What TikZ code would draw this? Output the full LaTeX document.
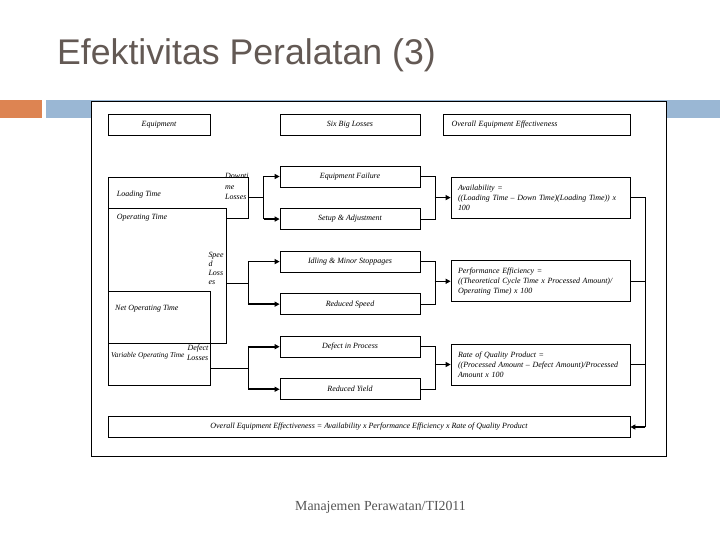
\documentclass[tikz,border=0pt]{standalone}
\usepackage{fontspec}
\setmainfont{Liberation Serif}
\newfontfamily\judulfont{Liberation Sans}
\usetikzlibrary{positioning,arrows.meta,calc,backgrounds}
\definecolor{oranye}{RGB}{221,132,82}
\definecolor{biru}{RGB}{154,183,212}
\definecolor{abujudul}{RGB}{99,89,84}
\definecolor{abukaki}{RGB}{85,85,85}
\tikzset{
  kotak/.style      = {draw, fill=white, line width=0.75bp, inner sep=2pt,
                       font=\fontsize{8}{10}\selectfont\itshape},
  kotakrugi/.style  = {kotak, minimum width=140bp, minimum height=21bp},
  kotakhasil/.style = {kotak, text width=165bp, inner xsep=7bp, align=left,
                       minimum height=41bp},
  kotakwaktu/.style = {draw, fill=white, line width=0.75bp, anchor=north west,
                       inner sep=0pt},
  teks/.style       = {font=\fontsize{8}{10}\selectfont\itshape, inner sep=0pt,
                       anchor=west},
  teksrugi/.style   = {font=\fontsize{8}{9}\selectfont\itshape, inner sep=0pt,
                       anchor=north west, align=left},
  garis/.style      = {line width=0.75bp},
  panah/.style      = {-{Triangle[length=5bp,width=5bp]}, line width=1.6bp}
}
\begin{document}
\begin{tikzpicture}[x=1bp, y=-1bp, node distance=20.8bp]
        \useasboundingbox (0,0) rectangle (720,540);
        \begin{scope}[on background layer]
            \fill[oranye] (0,100) rectangle (42,118.5);
            \fill[biru] (46,100) rectangle (720,118.5);
            \draw[garis, fill=white] (91,101.5) rectangle (666.5,456);
        \end{scope}

        \node[anchor=base west, inner sep=0pt, text=abujudul,
              font=\judulfont\fontsize{35.8}{40}\selectfont] (judul) at (57,64.3) {Efektivitas Peralatan (3)};
        \node[anchor=base west, inner sep=0pt, text=abukaki,
              font=\fontsize{13.9}{16}\selectfont] (kaki) at (295,510.7) {Manajemen Perawatan/TI2011};

        \node[kotak, minimum width=102bp, minimum height=21bp] (alat) at (159,124.5) {Equipment};
        \node[kotakrugi] (enam) at (350,124.5) {Six Big Losses};
        \node[kotak, text width=170bp, inner xsep=8.5bp, align=left, minimum height=21bp] (oee) at (536.7,124.5) {Overall Equipment Effectiveness};

        \node[kotakwaktu, minimum width=140bp, minimum height=41bp] (muat) at (108,177) {};
        \node[kotakwaktu, minimum width=117.7bp, minimum height=135bp] (operasi) at (108,208.3) {};
        \node[kotakwaktu, minimum width=102bp, minimum height=52.3bp] (bersih) at (108,291) {};
        \node[kotakwaktu, minimum width=102bp, minimum height=41.7bp] (bernilai) at (108,343.3) {};
        \node[teks] (tmuat) at (116.7,195) {Loading Time};
        \node[teks] (toperasi) at (116.7,217.3) {Operating Time};
        \node[teks] (tbersih) at (115,309) {Net Operating Time};
        \node[teks, font=\fontsize{7.4}{9}\selectfont\itshape] (tbernilai) at (111,356) {Variable Operating Time};

        \node[teksrugi, font=\fontsize{8}{10.5}\selectfont\itshape] (rhenti) at (225,173.5) {Downti\\me\\Losses};
        \node[teksrugi] (rcepat) at (208.3,252.5) {Spee\\d\\Loss\\es};
        \node[teksrugi, anchor=north east, align=right, font=\fontsize{8}{10}\selectfont\itshape] (rcacat) at (208.5,345) {Defect\\Losses};

        \node[kotakrugi] (gagal) at (350,176.5) {Equipment Failure};
        \node[kotakrugi, below=of gagal] (setel) {Setup \& Adjustment};
        \node[kotakrugi, below=of setel] (idle) {Idling \& Minor Stoppages};
        \node[kotakrugi, below=of idle] (lambat) {Reduced Speed};
        \node[kotakrugi, below=of lambat] (cacat) {Defect in Process};
        \node[kotakrugi, below=of cacat] (hasil) {Reduced Yield};

        \node[kotakhasil] (avail) at (540.5,197.6) {Availability =\\((Loading Time -- Down Time)(Loading Time)) x\\100};
        \node[kotakhasil] (kinerja) at (540.5,281.3) {Performance Efficiency =\\((Theoretical Cycle Time x Processed Amount)/\\Operating Time) x 100};
        \node[kotakhasil] (mutu) at (540.5,364.5) {Rate of Quality Product =\\((Processed Amount -- Defect Amount)/Processed\\Amount x 100};
        \node[kotak, minimum width=522bp, minimum height=20.6bp] (akhir) at (369,427) {Overall Equipment Effectiveness = Availability x Performance Efficiency x Rate of Quality Product};

        \draw[garis] ([xshift=-16bp]gagal.west) -- coordinate[midway] (titik1) ([xshift=-16bp]setel.west);
        \draw[panah] ([xshift=-16bp]gagal.west) -- (gagal.west);
        \draw[panah] ([xshift=-16bp]setel.west) -- (setel.west);
        \draw[garis] (muat.east |- titik1) -- (titik1);

        \draw[garis] ([xshift=-31.7bp]idle.west) -- coordinate[midway] (titik2) ([xshift=-31.7bp]lambat.west);
        \draw[panah] ([xshift=-31.7bp]idle.west) -- (idle.west);
        \draw[panah] ([xshift=-31.7bp]lambat.west) -- (lambat.west);
        \draw[garis] (operasi.east |- titik2) -- (titik2);

        \draw[garis] ([xshift=-31.7bp]cacat.west) -- coordinate[midway] (titik3) ([xshift=-31.7bp]hasil.west);
        \draw[panah] ([xshift=-31.7bp]cacat.west) -- (cacat.west);
        \draw[panah] ([xshift=-31.7bp]hasil.west) -- (hasil.west);
        \draw[garis] (bernilai.east |- titik3) -- (titik3);

        \draw[garis] (gagal.east) -- ++(15,0) |- (setel.east);
        \draw[garis] (idle.east) -- ++(15,0) |- (lambat.east);
        \draw[garis] (cacat.east) -- ++(15,0) |- (hasil.east);
        \draw[panah] ([xshift=-16bp]avail.west) -- (avail.west);
        \draw[panah] ([xshift=-16bp]kinerja.west) -- (kinerja.west);
        \draw[panah] ([xshift=-16bp]mutu.west) -- (mutu.west);

        \draw[garis] (avail.east) -- ++(15,0) coordinate (kanan) -- (kanan |- akhir.east);
        \draw[garis] (kinerja.east) -- (kinerja.east -| kanan);
        \draw[garis] (mutu.east) -- (mutu.east -| kanan);
        \draw[panah] (kanan |- akhir.east) -- (akhir.east);
    \end{tikzpicture}
\end{document}
